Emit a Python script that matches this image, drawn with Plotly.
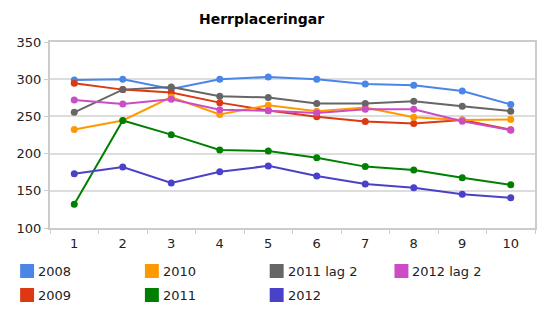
import plotly.graph_objects as go

x_vals = list(range(1, 11))
legend_order = ["2008", "2010", "2011 lag 2", "2012 lag 2", "2009", "2011", "2012"]
s2008 = [299, 300, 287, 300, 303, 300, 293.5, 292, 284, 266]
s2009 = [294.5, 286, 282, 268.5, 258, 249.5, 243, 240.5, 245, 232]
s2010 = [232.5, 244.5, 276, 252.5, 265, 257, 262, 249, 245, 246]
s2011lag2 = [255.5, 286, 289.5, 277, 275.5, 267.5, 267.5, 270.5, 263.5, 257]
s2012lag2 = [272, 266.5, 273, 259, 257.5, 254.5, 259.5, 259.5, 243.5, 231.5]
s2011 = [132, 244.5, 225.5, 205, 203.5, 194.5, 182.5, 178, 167.5, 158]
s2012 = [173, 182, 160.5, 175.5, 183.5, 170, 159, 154, 145.5, 140.5]
colors = {"2008": "#4a86e8", "2009": "#dc3912", "2010": "#ff9900", "2011 lag 2": "#666666",
          "2012 lag 2": "#cc4cc6", "2011": "#008000", "2012": "#4a41c9"}
data = {"2008": s2008, "2009": s2009, "2010": s2010, "2011 lag 2": s2011lag2,
        "2012 lag 2": s2012lag2, "2011": s2011, "2012": s2012}
draw_order = ["2008", "2009", "2010", "2011", "2012", "2011 lag 2", "2012 lag 2"]

W, H = 547, 322
ML, MR, MT, MB = 50, 10, 42, 94
PW, PH = W - ML - MR, H - MT - MB

def px_x(px):
    return (px - ML) / PW

def px_y(py):
    return (H - MB - py) / PH

fig = go.Figure()
for name in draw_order:
    fig.add_trace(go.Scatter(x=x_vals, y=data[name], mode="lines+markers", name=name,
                             line=dict(color=colors[name], width=2),
                             marker=dict(color=colors[name], size=7),
                             showlegend=False))

shapes = []
annotations = []
for i, name in enumerate(legend_order):
    col = i % 4
    row = i // 4
    x0 = 20 + col * 125.3
    yc = 271 + row * 24
    shapes.append(dict(type="rect", xref="paper", yref="paper",
                       x0=px_x(x0), x1=px_x(x0 + 14), y0=px_y(yc + 7), y1=px_y(yc - 7),
                       fillcolor=colors[name], line=dict(width=0)))
    annotations.append(dict(text=name, xref="paper", yref="paper", x=px_x(x0 + 16),
                            y=px_y(yc), xanchor="left", yanchor="middle", showarrow=False,
                            font=dict(family="DejaVu Sans", size=13, color="#222222")))

annotations.append(dict(text="<b>Herrplaceringar</b>", xref="paper", yref="paper",
                        x=px_x(262), y=px_y(19), xanchor="center", yanchor="middle",
                        showarrow=False,
                        font=dict(family="DejaVu Sans", size=14, color="#000000")))

fig.update_layout(
    width=W, height=H,
    margin=dict(l=ML, r=MR, t=MT, b=MB),
    paper_bgcolor="white", plot_bgcolor="white",
    font=dict(family="DejaVu Sans", size=13, color="#222222"),
    showlegend=False,
    shapes=shapes,
    annotations=annotations,
    xaxis=dict(range=[0.5, 10.5], tickvals=x_vals, ticks="", showgrid=False,
               showline=True, linecolor="#cccccc", linewidth=2, mirror=True,
               zeroline=False, ticklabelstandoff=2,
               minor=dict(tickvals=[i + 0.5 for i in range(0, 11)], ticks="outside",
                          ticklen=4, tickcolor="#cccccc")),
    yaxis=dict(range=[100, 350], tickvals=[100, 150, 200, 250, 300, 350], ticks="outside",
               ticklen=4, tickcolor="#cccccc", showgrid=True, gridcolor="#dddddd", gridwidth=2,
               showline=True, linecolor="#cccccc", linewidth=2, mirror=True, zeroline=False),
)
fig.write_html("out.html")
